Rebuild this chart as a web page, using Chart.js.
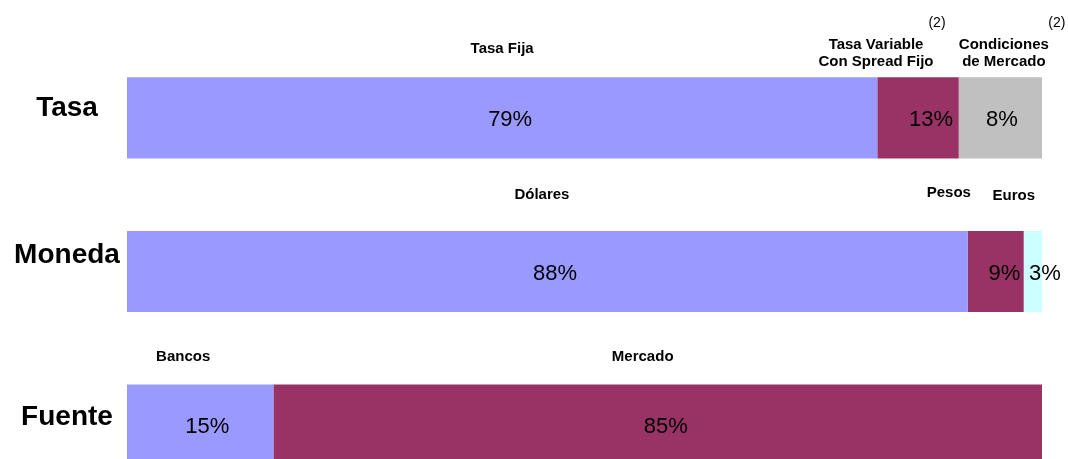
<!DOCTYPE html>
<html>
<head>
<meta charset="utf-8">
<script src="https://cdn.jsdelivr.net/npm/chart.js@4"></script>
<style>
  html, body { margin: 0; padding: 0; background: #fff; overflow: hidden; }
  #wrap { width: 1068px; height: 502px; }
</style>
</head>
<body>
<div id="wrap"><canvas id="mixChart"></canvas></div>
<script>
// Categories (rows)
const categories = ['Tasa', 'Moneda', 'Fuente'];

// Segment widths as drawn (% of bar), by position in each row
const firstShare  = [82.0, 91.9, 16.0];
const secondShare = [8.9, 6.1, 84.0];
const thirdShare  = [9.1, 2.0, null];

// Texts printed on / above the segments
const segmentNames = [
  ['Tasa Fija', 'Tasa Variable\nCon Spread Fijo', 'Condiciones\nde Mercado'],
  ['Dólares', 'Pesos', 'Euros'],
  ['Bancos', 'Mercado'],
];
const pctText = [
  ['79%', '13%', '8%'],
  ['88%', '9%', '3%'],
  ['15%', '85%'],
];
const noteText = [
  ['', '(2)', '(2)'],
  ['', '', ''],
  ['', ''],
];

const segColors = [
  ['#9999FF', '#9999FF', '#9999FF'],
  ['#993366', '#993366', '#993366'],
  ['#C0C0C0', '#CCFFFF', '#C0C0C0'],
];

// Label placement tweaks (px, relative to segment centre / bar top)
const nameOffsets = [
  [[0, -28], [-42, -24], [3.5, -24]],
  [[-5.5, -36], [-47, -38], [-19, -35.5]],
  [[-17, -28], [-15, -28]],
];
const noteOffsets = [
  [null, [19, -54], [56.5, -54]],
  [null, null, null],
  [null, null],
];
const pctDx = [[8, 13, 1.5], [7.5, 8.5, 12], [7, 8]];
const catDy = [-10, -16, -7.5];

const FONT = '"Liberation Sans", Arial, Helvetica, sans-serif';

const labelPlugin = {
  id: 'segmentLabels',
  afterDatasetsDraw(chart) {
    const { ctx } = chart;
    ctx.save();
    ctx.fillStyle = '#000';
    ctx.textAlign = 'center';
    ctx.textBaseline = 'middle';

    categories.forEach((cat, i) => {
      const yc = chart.scales.y.getPixelForValue(i);
      ctx.font = 'bold 28px ' + FONT;
      ctx.fillText(cat, 67, yc + catDy[i]);

      segmentNames[i].forEach((name, j) => {
        const el = chart.getDatasetMeta(j).data[i];
        if (!el) return;
        const cx = (el.x + el.base) / 2;
        const top = el.y - el.height / 2;

        // percentage inside the bar
        ctx.font = '22px ' + FONT;
        ctx.fillText(pctText[i][j], cx + pctDx[i][j], el.y + 2);

        // segment name above the bar
        ctx.font = 'bold 15px ' + FONT;
        const lines = name.split('\n');
        const [dx, dy] = nameOffsets[i][j];
        const lh = 17.5;
        lines.forEach((ln, k) => {
          const off = (k - (lines.length - 1) / 2) * lh;
          ctx.fillText(ln, cx + dx, top + dy + off);
        });

        // footnote marker
        if (noteText[i][j] && noteOffsets[i][j]) {
          ctx.font = '14px ' + FONT;
          const [nx, ny] = noteOffsets[i][j];
          ctx.fillText(noteText[i][j], cx + nx, top + ny);
        }
      });
    });
    ctx.restore();
  }
};

const shares = [firstShare, secondShare, thirdShare];

new Chart(document.getElementById('mixChart'), {
  type: 'bar',
  data: {
    labels: categories,
    datasets: shares.map((vals, k) => ({
      data: vals,
      backgroundColor: segColors[k],
      borderWidth: 0,
      barPercentage: 0.528,
      categoryPercentage: 1,
    })),
  },
  plugins: [labelPlugin],
  options: {
    indexAxis: 'y',
    responsive: true,
    maintainAspectRatio: false,
    animation: false,
    layout: { padding: { left: 127, right: 26, top: 41, bottom: 0 } },
    plugins: {
      legend: { display: false },
      tooltip: { enabled: false },
    },
    scales: {
      x: { stacked: true, min: 0, max: 100, display: false },
      y: { stacked: true, display: false },
    },
  },
});
</script>
</body>
</html>
